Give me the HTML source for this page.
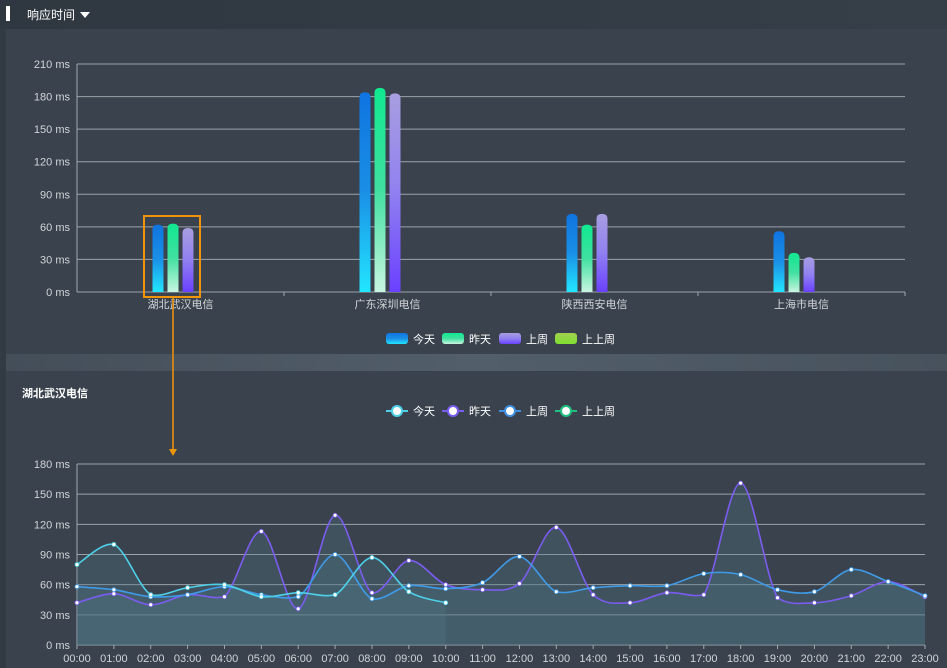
<!DOCTYPE html>
<html><head><meta charset="utf-8"><style>
body{margin:0;width:947px;height:668px;background:#323a43;overflow:hidden;font-family:"Liberation Sans","Noto Sans CJK SC",sans-serif;position:relative}
#hdr{position:absolute;left:0;top:0;width:947px;height:29px;background:linear-gradient(90deg,#2f3740,#363e48)}
#p1{position:absolute;left:6px;top:29px;width:941px;height:325px;background:#3a434d}
#band{position:absolute;left:6px;top:354px;width:941px;height:17px;background:linear-gradient(90deg,#444e59,#525e6a,#47525d)}
#p2{position:absolute;left:6px;top:371px;width:941px;height:297px;background:#3a434d}
svg{position:absolute;left:0;top:0}
text{font-family:"Liberation Sans","Noto Sans CJK SC",sans-serif}
</style></head><body>
<div id="hdr"></div>
<div id="p1"></div>
<div id="band"></div>
<div id="p2"></div>
<svg id="s" width="947" height="668" xmlns="http://www.w3.org/2000/svg">
<defs>
<linearGradient id="g0" x1="0" y1="0" x2="0" y2="1"><stop offset="0" stop-color="#0f74e0"/><stop offset="0.5" stop-color="#1a8fe6"/><stop offset="1" stop-color="#22e6ff"/></linearGradient>
<linearGradient id="g1" x1="0" y1="0" x2="0" y2="1"><stop offset="0" stop-color="#10e890"/><stop offset="0.5" stop-color="#40e0a0"/><stop offset="1" stop-color="#c8f5e0"/></linearGradient>
<linearGradient id="g2" x1="0" y1="0" x2="0" y2="1"><stop offset="0" stop-color="#a89ee0"/><stop offset="0.5" stop-color="#9080f0"/><stop offset="1" stop-color="#6a40ff"/></linearGradient>
<linearGradient id="g3" x1="0" y1="0" x2="0" y2="1"><stop offset="0" stop-color="#a0d050"/><stop offset="1" stop-color="#80e030"/></linearGradient>
</defs>
<rect x="6" y="6" width="4" height="15" fill="#fff"/>
<text x="27" y="19" font-size="12" fill="#fff">响应时间</text>
<path d="M80 12 L90 12 L85 18 Z" fill="#fff"/>
<text x="22" y="397" font-size="11" fill="#fff" font-weight="bold">湖北武汉电信</text>
<g id="bars"></g>
<g id="lines"></g>
<g id="legends"></g>
<rect x="144" y="216" width="56" height="81" fill="none" stroke="#f0940a" stroke-width="2"/>
<line x1="173" y1="297" x2="173" y2="450" stroke="#f0940a" stroke-width="1.5"/>
<path d="M169 449 L177 449 L173 456 Z" fill="#f0940a"/>
</svg>
<script>
const NS="http://www.w3.org/2000/svg";
function el(t,a,p){const e=document.createElementNS(NS,t);for(const k in a)e.setAttribute(k,a[k]);p.appendChild(e);return e;}
// Bar chart data
const barCategories=["湖北武汉电信","广东深圳电信","陕西西安电信","上海市电信"];
const barToday=[62,184,72,56];
const barYesterday=[63,188,62,36];
const barLastWeek=[59,183,72,32];
const barTwoWeeks=[0,0,0,0];
const barTicks=[0,30,60,90,120,150,180,210];
// Line chart data
const hours=["00:00","01:00","02:00","03:00","04:00","05:00","06:00","07:00","08:00","09:00","10:00","11:00","12:00","13:00","14:00","15:00","16:00","17:00","18:00","19:00","20:00","21:00","22:00","23:00"];
const lineToday=[80,100,50,57,60,48,52,50,87,53,42];
const lineYesterday=[42,51,40,50,48,113,36,129,52,84,60,55,61,117,50,42,52,50,161,47,42,49,63,48];
const lineLastWeek=[58,55,48,50,58,50,48,90,46,59,56,62,88,53,57,59,59,71,70,55,53,75,63,49];
const lineTwoWeeks=[];
const lineTicks=[0,30,60,90,120,150,180];

const bars=document.getElementById('bars');
const bx0=77,bx1=905,by0=292,by1=64,bmax=210;
const byS=v=>by0-(v/bmax)*(by0-by1);
const bw=(bx1-bx0)/barCategories.length;
barTicks.forEach(t=>{
  const y=byS(t);
  const l=el('line',{x1:bx0,x2:bx1,y1:y,y2:y,stroke:'#9aa2aa','stroke-width':1},bars);
  
  
  const tx=el('text',{x:70,y:y+4,'font-size':11,fill:'#d0d4d8','text-anchor':'end'},bars);tx.textContent=t+' ms';
  
  
});
el('line',{x1:bx0,x2:bx0,y1:by1,y2:by0,stroke:'#a0a8b0'},bars);
const series=[barToday,barYesterday,barLastWeek];
barCategories.forEach((c,i)=>{
  const cx=bx0+bw*(i+0.5);
  el('line',{x1:bx0+bw*(i+1),x2:bx0+bw*(i+1),y1:by0,y2:by0+4,stroke:'#a0a8b0'},bars);
  const tx=el('text',{x:cx,y:308,'font-size':11,fill:'#d0d4d8','text-anchor':'middle'},bars);tx.textContent=c;
  
  
  series.forEach((s,j)=>{
    const x=cx-22.5+15*j-5.5, y=byS(s[i]);
    const r=el('path',{d:`M${x} ${by0} L${x} ${y+5} Q${x} ${y} ${x+5.5} ${y} Q${x+11} ${y} ${x+11} ${y+5} L${x+11} ${by0} Z`,fill:`url(#g${j})`},bars);
    
    
  });
});
// legends
const lg=document.getElementById('legends');
const bl=[["今天",0,386],["昨天",1,442],["上周",2,499],["上上周",3,555]];
bl.forEach(([n,g,x])=>{
  const r=el('rect',{x:x,y:333,width:22,height:11,rx:3,fill:`url(#g${g})`},lg);
  
  
  const t=el('text',{x:x+27,y:343,'font-size':11,fill:'#fff'},lg);t.textContent=n;
  
  
});
const ll=[["今天","#4dd0e8",386],["昨天","#7b5cf0",442],["上周","#3f8fe0",499],["上上周","#20c080",555]];
ll.forEach(([n,c,x])=>{
  el('line',{x1:x,x2:x+22,y1:411,y2:411,stroke:c,'stroke-width':2},lg);
  const ci=el('circle',{cx:x+11,cy:411,r:5,fill:'#fff',stroke:c,'stroke-width':2},lg);
  
  
  const t=el('text',{x:x+27,y:415,'font-size':11,fill:'#fff'},lg);t.textContent=n;
  
  
});
// line chart
const lines=document.getElementById('lines');
const lx0=77,lx1=925,ly0=645,ly1=464,lmax=180;
const lxS=i=>lx0+i*(lx1-lx0)/(hours.length-1);
const lyS=v=>ly0-(v/lmax)*(ly0-ly1);
lineTicks.forEach(t=>{
  const y=lyS(t);
  const l=el('line',{x1:lx0,x2:lx1,y1:y,y2:y,stroke:'#9aa2aa','stroke-width':1},lines);
  
  
  const tx=el('text',{x:70,y:y+4,'font-size':11,fill:'#d0d4d8','text-anchor':'end'},lines);tx.textContent=t+' ms';
  
  
});
el('line',{x1:lx0,x2:lx0,y1:ly1,y2:ly0,stroke:'#a0a8b0'},lines);
hours.forEach((h,i)=>{
  const x=lxS(i);
  el('line',{x1:x,x2:x,y1:ly0,y2:ly0+4,stroke:'#a0a8b0'},lines);
  const tx=el('text',{x:x,y:662,'font-size':11,fill:'#d0d4d8','text-anchor':'middle'},lines);tx.textContent=h;
  
  
});
function curve(pts){
  let d=`M${pts[0][0]} ${pts[0][1]}`;
  for(let i=0;i<pts.length-1;i++){
    const p0=pts[Math.max(0,i-1)],p1=pts[i],p2=pts[i+1],p3=pts[Math.min(pts.length-1,i+2)];
    const k=0.16;
    let c1y=p1[1]+(p2[1]-p0[1])*k, c2y=p2[1]-(p3[1]-p1[1])*k;
    const lo=Math.min(p1[1],p2[1])-3, hi=Math.max(p1[1],p2[1])+3;
    c1y=Math.max(lo,Math.min(hi,c1y)); c2y=Math.max(lo,Math.min(hi,c2y));
    d+=` C${p1[0]+(p2[0]-p0[0])*k} ${c1y} ${p2[0]-(p3[0]-p1[0])*k} ${c2y} ${p2[0]} ${p2[1]}`;
  }
  return d;
}
const ls=[[lineYesterday,'#7b5cf0','yesterday'],[lineLastWeek,'#3f9be8','last-week'],[lineToday,'#4dd0e8','today']];
ls.forEach(([s,c,n])=>{
  const pts=s.map((v,i)=>[lxS(i),lyS(v)]);
  const d=curve(pts);
  const a=el('path',{d:d+` L${pts[pts.length-1][0]} ${ly0} L${pts[0][0]} ${ly0} Z`,fill:'rgba(80,120,135,0.3)'},lines);
  
  
});
ls.forEach(([s,c,n])=>{
  const pts=s.map((v,i)=>[lxS(i),lyS(v)]);
  const p=el('path',{d:curve(pts),fill:'none',stroke:c,'stroke-width':1.6},lines);
  
  
  pts.forEach(q=>{
    const ci=el('circle',{cx:q[0],cy:q[1],r:2,fill:'#fff',stroke:c,'stroke-width':0.8},lines);
    
    
  });
});
</script>
</body></html>
